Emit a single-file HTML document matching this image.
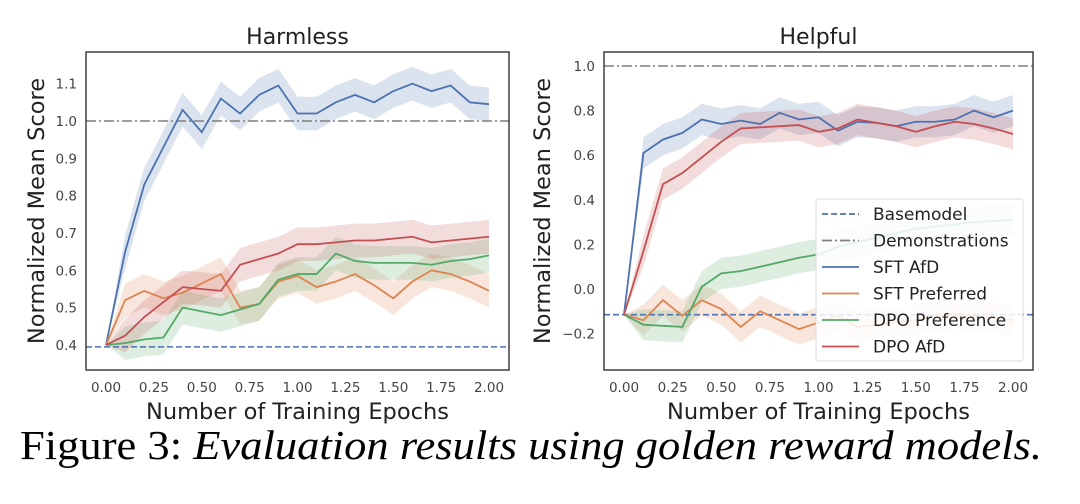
<!DOCTYPE html>
<html><head><meta charset="utf-8"><style>
html,body{margin:0;padding:0;background:#fff;}
svg{display:block;font-family:"DejaVu Sans","Liberation Sans",sans-serif;}
</style></head><body>
<svg id="fig" width="1080" height="504" viewBox="0 0 1080 504" xmlns="http://www.w3.org/2000/svg">
<text x="20" y="459" font-family="Liberation Serif, serif" font-size="41" textLength="1022" lengthAdjust="spacingAndGlyphs" fill="#000">Figure 3: <tspan font-style="italic">Evaluation results using golden reward models.</tspan></text>
</svg>
<script>
const epochs = [0,0.1,0.2,0.3,0.4,0.5,0.6,0.7,0.8,0.9,1.0,1.1,1.2,1.3,1.4,1.5,1.6,1.7,1.8,1.9,2.0];
const xTicks = [0,0.25,0.5,0.75,1.0,1.25,1.5,1.75,2.0];
const xTickLabels = ["0.00","0.25","0.50","0.75","1.00","1.25","1.50","1.75","2.00"];
// Harmless
const hSftAfd = [0.4,0.65,0.83,0.93,1.03,0.97,1.06,1.02,1.07,1.095,1.02,1.02,1.05,1.07,1.05,1.08,1.1,1.08,1.095,1.05,1.045];
const hSftPref = [0.4,0.52,0.545,0.525,0.54,0.565,0.59,0.5,0.51,0.57,0.585,0.555,0.57,0.59,0.56,0.525,0.57,0.6,0.59,0.57,0.545];
const hDpoPref = [0.4,0.405,0.415,0.42,0.5,0.49,0.48,0.495,0.51,0.575,0.59,0.59,0.645,0.625,0.62,0.62,0.62,0.615,0.625,0.63,0.64];
const hDpoAfd = [0.4,0.425,0.475,0.515,0.555,0.55,0.545,0.615,0.63,0.645,0.67,0.67,0.675,0.68,0.68,0.685,0.69,0.675,0.68,0.685,0.69];
const hBase = 0.395, hDemo = 1.0;
const hYTicks = [0.4,0.5,0.6,0.7,0.8,0.9,1.0,1.1];
const hBand = 0.045;
// Helpful
const pSftAfd = [-0.115,0.61,0.67,0.7,0.76,0.74,0.755,0.74,0.79,0.76,0.77,0.71,0.75,0.745,0.73,0.75,0.75,0.76,0.8,0.77,0.8];
const pSftPref = [-0.115,-0.14,-0.05,-0.12,-0.05,-0.09,-0.17,-0.1,-0.14,-0.18,-0.15,-0.12,-0.17,-0.16,-0.15,-0.14,-0.12,-0.11,-0.12,-0.13,-0.14];
const pDpoPref = [-0.115,-0.16,-0.165,-0.17,0.01,0.07,0.08,0.1,0.12,0.14,0.155,0.19,0.21,0.23,0.25,0.27,0.28,0.29,0.3,0.305,0.31];
const pDpoAfd = [-0.115,0.17,0.47,0.52,0.59,0.66,0.72,0.725,0.73,0.735,0.705,0.72,0.76,0.745,0.73,0.705,0.73,0.75,0.74,0.72,0.695];
const pBase = -0.115, pDemo = 1.0;
const pYTicks = [-0.2,0.0,0.2,0.4,0.6,0.8,1.0];
const pYTickLabels = ["\u22120.2","0.0","0.2","0.4","0.6","0.8","1.0"];
const pBand = 0.07;
const legendLabels = ["Basemodel","Demonstrations","SFT AfD","SFT Preferred","DPO Preference","DPO AfD"];

const C = {blue:"#4c72b0",orange:"#dd8452",green:"#55a868",red:"#c44e52",gray:"#7f7f7f"};
const NS="http://www.w3.org/2000/svg";
const svg=document.getElementById('fig');
function el(tag,attrs,parent){const e=document.createElementNS(NS,tag);for(const k in attrs)e.setAttribute(k,attrs[k]);(parent||svg).appendChild(e);return e;}

function panel(cfg){
  const g=el('g',{});
  
  
  const sx=v=>cfg.x0+v*(cfg.x2-cfg.x0)/2;
  const sy=v=>cfg.yA+(v-cfg.vA)*(cfg.yB-cfg.yA)/(cfg.vB-cfg.vA);
  const clipId=cfg.name+'-clip';
  const cp=el('clipPath',{id:clipId},g);
  el('rect',{x:cfg.L,y:cfg.T,width:cfg.R-cfg.L,height:cfg.B-cfg.T},cp);
  const plot=el('g',{'clip-path':'url(#'+clipId+')'},g);
  cfg.series.forEach(s=>{
    let up=epochs.map((e,i)=>sx(e)+','+sy(s.v[i]+(i?cfg.band:0))).join(' ');
    let dn=epochs.map((e,i)=>sx(e)+','+sy(s.v[i]-(i?cfg.band:0))).reverse().join(' ');
    const b=el('polygon',{points:up+' '+dn,fill:s.c,'fill-opacity':0.2,stroke:'none'},plot);
    
    
  });
  const bl=el('line',{x1:cfg.L,x2:cfg.R,y1:sy(cfg.base),y2:sy(cfg.base),stroke:C.blue,'stroke-width':1.6,'stroke-dasharray':'6,3'},plot);
  
  
  const dl=el('line',{x1:cfg.L,x2:cfg.R,y1:sy(cfg.demo),y2:sy(cfg.demo),stroke:C.gray,'stroke-width':1.6,'stroke-dasharray':'10,3,2,3'},plot);
  
  
  cfg.series.forEach(s=>{
    const p=el('polyline',{points:epochs.map((e,i)=>sx(e)+','+sy(s.v[i])).join(' '),fill:'none',stroke:s.c,'stroke-width':1.8},plot);
    
    
  });
  el('rect',{x:cfg.L,y:cfg.T,width:cfg.R-cfg.L,height:cfg.B-cfg.T,fill:'none',stroke:'#333','stroke-width':1.4},g);
  xTicks.forEach((t,i)=>{
    const tx=el('text',{x:sx(t),y:cfg.B+22,'text-anchor':'middle','font-size':13.5,fill:'#444'},g);
    tx.textContent=xTickLabels[i];
    
    
  });
  cfg.yTicks.forEach((t,i)=>{
    const ty=el('text',{x:cfg.L-9,y:sy(t)+5,'text-anchor':'end','font-size':13.5,fill:'#444'},g);
    ty.textContent=cfg.yLabels?cfg.yLabels[i]:t.toFixed(1);
    
    
  });
  const ti=el('text',{x:(cfg.L+cfg.R)/2,y:cfg.T-8,'text-anchor':'middle','font-size':22,fill:'#222'},g);
  ti.textContent=cfg.title;
  
  
  const xl=el('text',{x:(cfg.L+cfg.R)/2,y:cfg.B+49,'text-anchor':'middle','font-size':22.5,fill:'#222'},g);
  xl.textContent='Number of Training Epochs';
  
  
  const cy=(cfg.T+cfg.B)/2;
  const yl=el('text',{x:cfg.yTitleX,y:cy,'text-anchor':'middle','font-size':22.5,fill:'#222',transform:'rotate(-90 '+cfg.yTitleX+' '+cy+')'},g);
  yl.textContent='Normalized Mean Score';
  
  
  return g;
}

panel({name:'harmless-chart',title:'Harmless',L:86,R:509,T:52,B:370,x0:106,x2:489,vA:1.0,yA:121,vB:0.4,yB:345,
  base:hBase,demo:hDemo,band:hBand,yTicks:hYTicks,yTitleX:44,
  series:[{key:'sft-afd',v:hSftAfd,c:C.blue},{key:'sft-preferred',v:hSftPref,c:C.orange},{key:'dpo-preference',v:hDpoPref,c:C.green},{key:'dpo-afd',v:hDpoAfd,c:C.red}]});
panel({name:'helpful-chart',title:'Helpful',L:604,R:1033,T:52,B:370,x0:624,x2:1013,vA:1.0,yA:66,vB:0.0,yB:289,
  base:pBase,demo:pDemo,band:pBand,yTicks:pYTicks,yLabels:pYTickLabels,yTitleX:550,
  series:[{key:'sft-afd',v:pSftAfd,c:C.blue},{key:'sft-preferred',v:pSftPref,c:C.orange},{key:'dpo-preference',v:pDpoPref,c:C.green},{key:'dpo-afd',v:pDpoAfd,c:C.red}]});

// legend
const lg=el('g',{});


el('rect',{x:816,y:199,width:207,height:162,rx:3,fill:'#fff','fill-opacity':0.85,stroke:'#ddd'},lg);
const lstyles=[{c:C.blue,d:'6,3'},{c:C.gray,d:'10,3,2,3'},{c:C.blue},{c:C.orange},{c:C.green},{c:C.red}];
legendLabels.forEach((lab,i)=>{
  const y=214+i*26.5;
  const ent=el('g',{},lg);
  
  
  const a={x1:822,x2:859,y1:y,y2:y,stroke:lstyles[i].c,'stroke-width':1.8};
  if(lstyles[i].d)a['stroke-dasharray']=lstyles[i].d;
  el('line',a,ent);
  const t=el('text',{x:873,y:y+6,'font-size':17,fill:'#222'},ent);
  t.textContent=lab;
});
</script>
</body></html>
